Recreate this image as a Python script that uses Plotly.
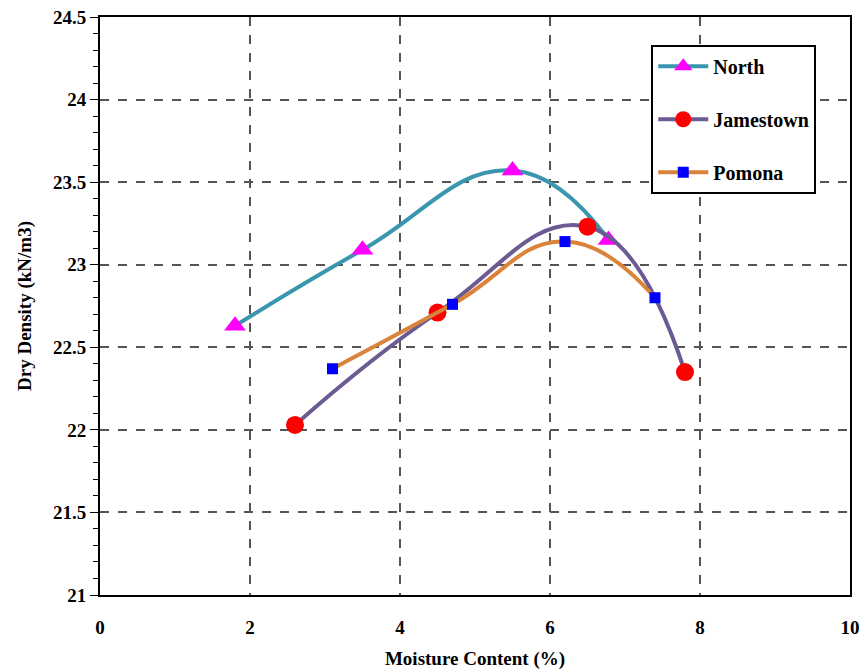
import plotly.graph_objects as go

north_x = [1.8, 3.5, 5.5, 6.78]
north_y = [22.63, 23.09, 23.57, 23.15]
james_x = [2.6, 4.5, 6.5, 7.8]
james_y = [22.03, 22.71, 23.23, 22.35]
pomona_x = [3.1, 4.7, 6.2, 7.4]
pomona_y = [22.37, 22.76, 23.14, 22.80]

series = [
    ("North", north_x, north_y, "#3a96ae", "triangle-up", "#ff00ff", 19),
    ("Jamestown", james_x, james_y, "#6b5b92", "circle", "#ff0000", 18),
    ("Pomona", pomona_x, pomona_y, "#d9843a", "square", "#0000ff", 11),
]

fig = go.Figure()
for i, (name, xs, ys, lc, sym, mc, ms) in enumerate(series):
    fig.add_trace(go.Scatter(
        x=xs, y=ys, name=name, mode="lines+markers",
        line=dict(color=lc, width=4, shape="spline", smoothing=1.3),
        marker=dict(symbol=sym, color=mc, size=ms),
        legendgroup=f"g{i}",
    ))

font_family = "Liberation Serif, Times New Roman, serif"
bold = dict(family=font_family, size=19, color="black", weight="bold")
legfont = dict(family=font_family, size=20, color="black", weight="bold")
fig.update_layout(
    width=863, height=670,
    margin=dict(l=100, r=13, t=17, b=75),
    plot_bgcolor="white", paper_bgcolor="white",
    font=dict(family=font_family, size=19, color="black"),
    showlegend=True,
    legend=dict(
        x=0.735, y=0.952, xanchor="left", yanchor="top",
        bordercolor="black", borderwidth=2, bgcolor="white",
        font=legfont,
        tracegroupgap=24, itemwidth=50,
    ),
    xaxis=dict(
        range=[0, 10], dtick=2, tick0=0, automargin=False,
        showgrid=True, gridcolor="#555555", griddash="dash", gridwidth=1.5,
        showline=True, linecolor="black", linewidth=2, mirror=True,
        ticks="", zeroline=False, ticklabelstandoff=14,
        tickfont=bold,
        title=dict(text="Moisture Content (%)", font=bold, standoff=30),
    ),
    yaxis=dict(
        range=[21, 24.5], dtick=0.5, tick0=21, automargin=False,
        showgrid=True, gridcolor="#555555", griddash="dash", gridwidth=1.5,
        showline=True, linecolor="black", linewidth=2, mirror=True,
        ticks="outside", ticklen=8, tickcolor="black", zeroline=False,
        minor=dict(dtick=0.1, ticks="outside", ticklen=5, tickcolor="black", showgrid=False),
        tickfont=bold,
        title=dict(text="Dry Density (kN/m3)", font=bold, standoff=16),
    ),
)

fig.write_html("out.html")
